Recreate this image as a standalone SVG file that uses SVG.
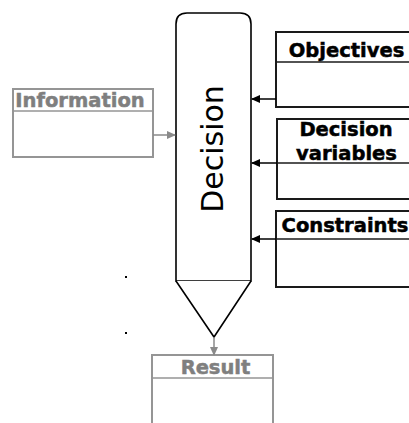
<svg xmlns="http://www.w3.org/2000/svg" width="409" height="423" viewBox="0 0 409 423">
<defs>
<style>
.box{fill:#fff;stroke:#1a1a1a;stroke-width:2}
.gbox{fill:#fff;stroke:#959595;stroke-width:2}
.sep{stroke:#1a1a1a;stroke-width:1.5}
.gsep{stroke:#959595;stroke-width:1.5}
.lbl{font-family:"DejaVu Sans","Verdana",sans-serif;font-weight:bold;font-size:19.5px;fill:#000;stroke:#000;stroke-width:0.5;text-anchor:middle}
.glbl{font-family:"DejaVu Sans","Verdana",sans-serif;font-weight:bold;font-size:19.5px;fill:#7f7f7f;stroke:#7f7f7f;stroke-width:0.5;text-anchor:middle}
.conn{stroke:#000;stroke-width:1.5;fill:none}
.gconn{stroke:#8a8a8a;stroke-width:1.5;fill:none}
</style>
<marker id="ah" markerWidth="9" markerHeight="8" refX="8" refY="4" orient="auto" markerUnits="userSpaceOnUse">
<path d="M0,0 L9,4 L0,8 Z" fill="#000"/>
</marker>
<marker id="gah" markerWidth="9" markerHeight="8" refX="8" refY="4" orient="auto" markerUnits="userSpaceOnUse">
<path d="M0,0 L9,4 L0,8 Z" fill="#8a8a8a"/>
</marker>
</defs>
<rect width="409" height="423" fill="#fff"/>

<g id="decision">
<path d="M176,281 V24 Q176,13 187,13 H240 Q251,13 251,24 V281 Z" fill="#fff" stroke="#000" stroke-width="1.6"/>
<path d="M176,281 L214,337 L251,281" fill="#fff" stroke="#000" stroke-width="1.6"/>
<text transform="translate(223,149) rotate(-90)" font-family="DejaVu Sans, Verdana, sans-serif" font-size="30" text-anchor="middle" fill="#000">Decision</text>
</g>

<g id="objectives">
<rect class="box" x="276" y="32" width="145" height="75"/>
<line class="sep" x1="276" y1="62" x2="421" y2="62"/>
<text class="lbl" x="346.5" y="57">Objectives</text>
</g>

<g id="decision-variables">
<rect class="box" x="277" y="119" width="145" height="80"/>
<line class="sep" x1="277" y1="163" x2="422" y2="163"/>
<text class="lbl" x="346" y="136">Decision</text>
<text class="lbl" x="346.5" y="160">variables</text>
</g>

<g id="constraints">
<rect class="box" x="276" y="211" width="145" height="76"/>
<line class="sep" x1="276" y1="239" x2="421" y2="239"/>
<text class="lbl" x="345" y="232">Constraints</text>
</g>

<g id="information">
<rect class="gbox" x="13" y="89" width="140" height="68"/>
<line class="gsep" x1="13" y1="111" x2="153" y2="111"/>
<text class="glbl" x="80" y="107" font-size="20">Information</text>
</g>

<g id="result">
<path d="M152,430 V355 H273 V430" class="gbox"/>
<line class="gsep" x1="152" y1="378" x2="273" y2="378"/>
<text class="glbl" x="215.5" y="374" font-size="18.5">Result</text>
</g>

<g id="connectors">
<line class="conn" x1="276" y1="99" x2="252" y2="99" marker-end="url(#ah)"/>
<line class="conn" x1="277" y1="163" x2="252" y2="163" marker-end="url(#ah)"/>
<line class="conn" x1="276" y1="239" x2="252" y2="239" marker-end="url(#ah)"/>
<line class="gconn" x1="153" y1="135" x2="175" y2="135" marker-end="url(#gah)"/>
<line class="gconn" x1="214" y1="337" x2="214" y2="355" marker-end="url(#gah)"/>
</g>

<rect x="125" y="276" width="2" height="2" fill="#000"/>
<rect x="125" y="332" width="2" height="2" fill="#000"/>
</svg>
